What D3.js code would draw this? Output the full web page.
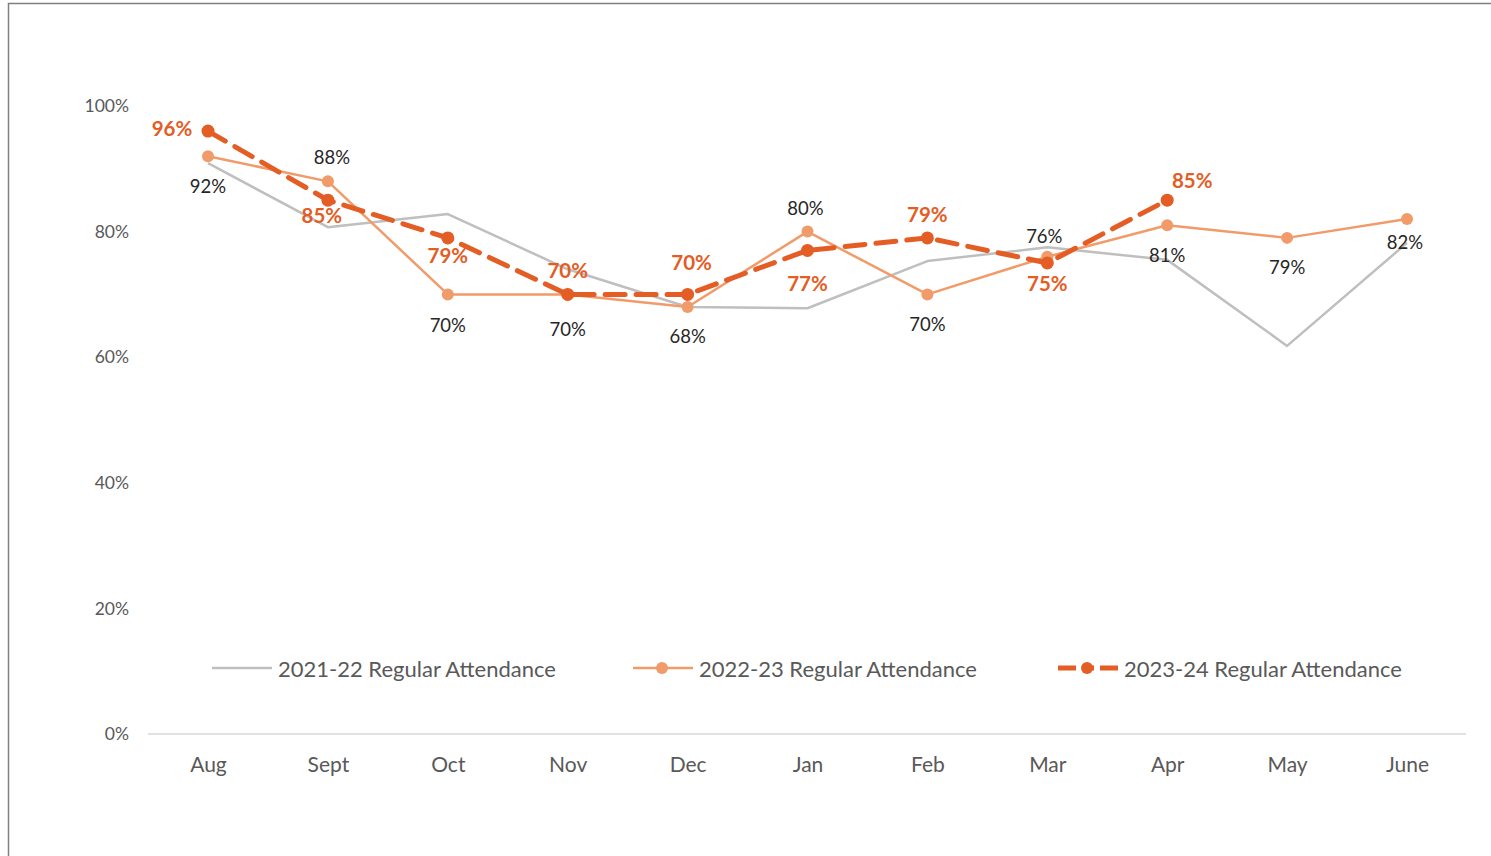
<!DOCTYPE html>
<html>
<head>
<meta charset="utf-8">
<script src="https://cdn.jsdelivr.net/npm/d3@7/dist/d3.min.js"></script>
<style>
  html, body { margin: 0; padding: 0; background: #fff; }
  svg { display: block; }
  text { font-family: Lato, "Open Sans", sans-serif; }
</style>
</head>
<body>
<svg id="chart" width="1491" height="856"></svg>
<script>
// Months of the school year
const months = ["Aug", "Sept", "Oct", "Nov", "Dec", "Jan", "Feb", "Mar", "Apr", "May", "June"];

// Regular attendance rates by school year
const att2122 = [0.909, 0.807, 0.828, 0.74, 0.68, 0.678, 0.753, 0.775, 0.755, 0.618, 0.782];
const att2223 = [0.92, 0.88, 0.70, 0.70, 0.68, 0.80, 0.70, 0.76, 0.81, 0.79, 0.82];
const att2324 = [0.96, 0.85, 0.79, 0.70, 0.70, 0.77, 0.79, 0.75, 0.85];

// Axis ticks and legend entries
const yTicks = [0, 0.2, 0.4, 0.6, 0.8, 1.0];
const seriesNames = ["2021-22 Regular Attendance", "2022-23 Regular Attendance", "2023-24 Regular Attendance"];

// Data label placement (dx, dy from the point to the label centre)
const lbl2223 = [[0, 30], [4, -24], [0, 31], [0, 35], [0, 29], [-2, -24], [0, 30], [-3, -21], [0, 30], [0, 29], [-2, 23]];
const lbl2324 = [[-36, -3], [-6, 15], [0, 17], [0, -24], [4, -32], [0, 33], [0, -24], [0, 20], [25, -20]];

const colors = { c2122: "#bfbfbf", c2223: "#f19b6a", c2324: "#e35d24", axis: "#d9d9d9", tick: "#595959", label: "#262626" };

const svg = d3.select("#chart");

// Outer frame
svg.append("rect")
  .attr("x", 8.5).attr("y", 3.5).attr("width", 1600).attr("height", 1000)
  .attr("fill", "none").attr("stroke", "#808080").attr("stroke-width", 1.5);

const x = d3.scalePoint().domain(months).range([208, 1407]);
const y = d3.scaleLinear().domain([0, 1]).range([734, 106]);

// Y axis labels (no axis line)
const yAxis = d3.axisLeft(y).tickValues(yTicks).tickFormat(d3.format(".0%")).tickSize(0).tickPadding(0);
const yg = svg.append("g").attr("transform", "translate(129,0)").call(yAxis);
yg.select(".domain").remove();
yg.selectAll("text").attr("fill", colors.tick).style("font-size", "17.5px").style("font-family", "Lato, sans-serif");

// X axis baseline and month labels
const xAxis = d3.axisBottom(x).tickSize(0).tickPadding(23);
const xg = svg.append("g").attr("transform", "translate(0,734)").call(xAxis);
xg.select(".domain").remove();
xg.selectAll("text").attr("fill", colors.tick).style("font-size", "21px").style("font-family", "Lato, sans-serif");
svg.append("line").attr("x1", 148).attr("x2", 1466).attr("y1", 734).attr("y2", 734)
  .attr("stroke", colors.axis).attr("stroke-width", 1.5);

const line = d3.line().x((d, i) => x(months[i])).y(d => y(d));

// 2021-22: plain gray line
svg.append("path").datum(att2122).attr("d", line)
  .attr("fill", "none").attr("stroke", colors.c2122).attr("stroke-width", 2.5).attr("stroke-linejoin", "round");

// 2022-23: light orange line with markers
svg.append("path").datum(att2223).attr("d", line)
  .attr("fill", "none").attr("stroke", colors.c2223).attr("stroke-width", 2.5).attr("stroke-linejoin", "round");
svg.selectAll(".m2223").data(att2223).enter().append("circle")
  .attr("cx", (d, i) => x(months[i])).attr("cy", d => y(d)).attr("r", 6).attr("fill", colors.c2223);

// 2023-24: dashed dark orange line with markers
svg.append("path").datum(att2324).attr("d", line)
  .attr("fill", "none").attr("stroke", colors.c2324).attr("stroke-width", 5)
  .attr("stroke-dasharray", "20,11").attr("stroke-linecap", "round").attr("stroke-linejoin", "round");
svg.selectAll(".m2324").data(att2324).enter().append("circle")
  .attr("cx", (d, i) => x(months[i])).attr("cy", d => y(d)).attr("r", 6.5).attr("fill", colors.c2324);

const pct = d3.format(".0%");

// Data labels
svg.selectAll(".l2223").data(att2223).enter().append("text")
  .attr("x", (d, i) => x(months[i]) + lbl2223[i][0])
  .attr("y", (d, i) => y(d) + lbl2223[i][1])
  .attr("text-anchor", "middle").attr("dominant-baseline", "central")
  .attr("fill", colors.label).style("font-size", "18.5px")
  .text(d => pct(d));

svg.selectAll(".l2324").data(att2324).enter().append("text")
  .attr("x", (d, i) => x(months[i]) + lbl2324[i][0])
  .attr("y", (d, i) => y(d) + lbl2324[i][1])
  .attr("text-anchor", "middle").attr("dominant-baseline", "central")
  .attr("fill", colors.c2324).style("font-size", "20.5px").style("font-weight", "bold")
  .text(d => pct(d));

// Legend
const legendItems = [
  { name: seriesNames[0], color: colors.c2122, x0: 212, width: 2.5, dash: null, marker: false },
  { name: seriesNames[1], color: colors.c2223, x0: 633, width: 2.5, dash: null, marker: true },
  { name: seriesNames[2], color: colors.c2324, x0: 1058, width: 5, dash: "18,6,12,6,18", marker: true }
];
const lg = svg.append("g").attr("transform", "translate(0,668)");
legendItems.forEach(it => {
  const g = lg.append("g");
  g.append("line").attr("x1", it.x0).attr("x2", it.x0 + 60).attr("y1", 0).attr("y2", 0)
    .attr("stroke", it.color).attr("stroke-width", it.width)
    .attr("stroke-dasharray", it.dash);
  if (it.marker) {
    g.append("circle").attr("cx", it.x0 + 29).attr("cy", 0).attr("r", 6).attr("fill", it.color);
  }
  g.append("text").attr("x", it.x0 + 66).attr("y", 0).attr("dominant-baseline", "central")
    .attr("fill", colors.tick).style("font-size", "22px").text(it.name);
});
</script>
</body>
</html>
